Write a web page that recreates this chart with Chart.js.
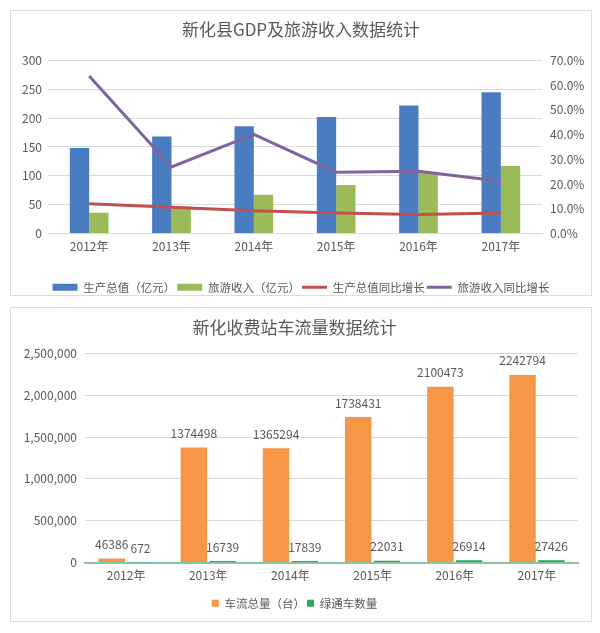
<!DOCTYPE html>
<html>
<head>
<meta charset="utf-8">
<script src="https://cdn.jsdelivr.net/npm/chart.js@4.4.1/dist/chart.umd.min.js"></script>
<style>
  body { margin: 0; background: #fff; }
  .box { position: absolute; left: 10px; width: 580px; border: 1px solid #dcdcdc; background: #fff; }
  #box1 { top: 10px; height: 284px; }
  #box2 { top: 307px; height: 313px; }
  canvas { display: block; }
</style>
</head>
<body>
<div class="box" id="box1"><canvas id="gdpChart" width="580" height="284"></canvas></div>
<div class="box" id="box2"><canvas id="trafficChart" width="580" height="313"></canvas></div>
<script>
const years = ['2012年', '2013年', '2014年', '2015年', '2016年', '2017年'];

// chart 1: GDP and tourism
const gdpValues = [148, 168, 186, 202, 222, 245];
const tourismValues = [36, 47, 67, 84, 105, 117];
const gdpGrowth = [12.0, 10.6, 9.2, 8.3, 7.7, 8.3];
const tourismGrowth = [63.7, 26.9, 40.1, 24.8, 25.2, 21.1];

// chart 2: toll station traffic
const trafficTotal = [46386, 1374498, 1365294, 1738431, 2100473, 2242794];
const greenChannel = [672, 16739, 17839, 22031, 26914, 27426];

Chart.defaults.font.family = "'Noto Sans CJK SC', sans-serif";
Chart.defaults.color = '#595959';
Chart.defaults.animation = false;

const textGray = '#595959';
const gridGray = '#d9d9d9';

function legendItems(chart) {
    const items = Chart.defaults.plugins.legend.labels.generateLabels(chart);
    items.forEach(it => {
        const ds = chart.data.datasets[it.datasetIndex];
        it.pointStyle = ds.type === 'line' ? 'line' : 'rect';
    });
    return items;
}

new Chart(document.getElementById('gdpChart'), {
    type: 'bar',
    data: {
        labels: years,
        datasets: [
            { label: '生产总值（亿元）', data: gdpValues, backgroundColor: '#4a7cc2', order: 2, yAxisID: 'y' },
            { label: '旅游收入（亿元）', data: tourismValues, backgroundColor: '#9bbb59', order: 2, yAxisID: 'y' },
            { type: 'line', label: '生产总值同比增长', data: gdpGrowth, borderColor: '#c0504d', backgroundColor: '#c0504d',
              borderWidth: 3, pointRadius: 0, tension: 0, order: 1, yAxisID: 'y1' },
            { type: 'line', label: '旅游收入同比增长', data: tourismGrowth, borderColor: '#8064a2', backgroundColor: '#8064a2',
              borderWidth: 3, pointRadius: 0, tension: 0, order: 1, yAxisID: 'y1' }
        ]
    },
    options: {
        responsive: false,
        layout: { padding: { left: 0, right: 0, top: 0, bottom: -8 } },
        datasets: { bar: { categoryPercentage: 0.47, barPercentage: 1.0 } },
        plugins: {
            title: { display: true, text: '新化县GDP及旅游收入数据统计', color: textGray,
                     font: { size: 17, weight: 'normal' }, padding: { top: 8, bottom: 21 } },
            legend: { position: 'bottom',
                      labels: { usePointStyle: true, pointStyleWidth: 25, boxHeight: 7, padding: 2,
                                color: textGray, font: { size: 11.5 }, generateLabels: legendItems,
                                sort: (a, b) => a.datasetIndex - b.datasetIndex } },
            tooltip: { enabled: false }
        },
        scales: {
            x: {
                grid: { display: false, drawTicks: false },
                border: { color: gridGray },
                ticks: { color: textGray, font: { size: 12 }, padding: 6 },
                afterFit: s => { s.height = 46; }
            },
            y: {
                position: 'left', min: 0, max: 300,
                grid: { color: gridGray, drawTicks: false },
                border: { display: false },
                ticks: { stepSize: 50, color: textGray, font: { size: 12 }, padding: 6 },
                afterFit: s => { s.width = 37; }
            },
            y1: {
                position: 'right', min: 0, max: 70,
                grid: { drawOnChartArea: false, drawTicks: false },
                border: { display: false },
                ticks: { stepSize: 10, color: textGray, font: { size: 12 }, padding: 8,
                         callback: v => v.toFixed(1) + '%' },
                afterFit: s => { s.width = 49; }
            }
        }
    }
});

const valueLabels = {
    id: 'valueLabels',
    afterDatasetsDraw(chart) {
        const ctx = chart.ctx;
        ctx.save();
        ctx.font = "12px 'Noto Sans CJK SC', sans-serif";
        ctx.fillStyle = textGray;
        ctx.textAlign = 'center';
        ctx.textBaseline = 'bottom';
        chart.data.datasets.forEach((ds, i) => {
            chart.getDatasetMeta(i).data.forEach((el, j) => {
                ctx.fillText(String(ds.data[j]), el.x, el.y - 8);
            });
        });
        ctx.restore();
    }
};

new Chart(document.getElementById('trafficChart'), {
    type: 'bar',
    data: {
        labels: years,
        datasets: [
            { label: '车流总量（台）', data: trafficTotal, backgroundColor: '#f79646' },
            { label: '绿通车数量', data: greenChannel, backgroundColor: '#22a95b' }
        ]
    },
    plugins: [valueLabels],
    options: {
        responsive: false,
        layout: { padding: { left: 0, right: 13, top: 0, bottom: 2 } },
        datasets: { bar: { categoryPercentage: 0.7, barPercentage: 0.92 } },
        plugins: {
            title: { display: true, text: '新化收费站车流量数据统计', color: textGray,
                     font: { size: 17, weight: 'normal' }, padding: { top: 9, bottom: 16 } },
            legend: { position: 'bottom',
                      labels: { usePointStyle: true, pointStyleWidth: 7, boxHeight: 7, padding: 2,
                                color: textGray, font: { size: 11.5 }, generateLabels: legendItems } },
            tooltip: { enabled: false }
        },
        scales: {
            x: {
                grid: { display: false, drawTicks: false },
                border: { color: '#86c7a2', width: 2 },
                ticks: { color: textGray, font: { size: 12 }, padding: 6 },
                afterFit: s => { s.height = 33; }
            },
            y: {
                min: 0, max: 2500000,
                grid: { color: gridGray, drawTicks: false },
                border: { display: false },
                ticks: { stepSize: 500000, color: textGray, font: { size: 12 }, padding: 8,
                         callback: v => v.toLocaleString('en-US') },
                afterFit: s => { s.width = 74; }
            }
        }
    }
});
</script>
</body>
</html>
